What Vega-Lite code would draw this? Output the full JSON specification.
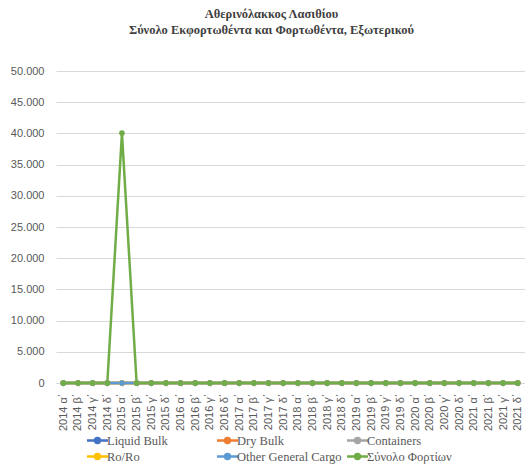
{
  "$schema": "https://vega.github.io/schema/vega-lite/v6.json",
  "width": 469,
  "height": 312,
  "autosize": {"type": "none"},
  "padding": {"left": 56, "top": 71, "right": 0, "bottom": 89},
  "background": "white",
  "config": {
    "locale": {"number": {"decimal": ",", "thousands": ".", "grouping": [3], "currency": ["", " €"]}},
    "view": {"stroke": null},
    "font": "Liberation Serif"
  },
  "title": {
    "text": ["Αθερινόλακκος Λασιθίου", "Σύνολο Εκφορτωθέντα και Φορτωθέντα, Εξωτερικού"],
    "font": "Liberation Serif",
    "fontSize": 12.5,
    "fontWeight": "bold",
    "color": "#404040",
    "anchor": "middle",
    "dx": -19,
    "offset": 29,
    "lineHeight": 16
  },
  "data": {
    "values": [
      {"q": "2014 α΄", "Liquid Bulk": 0, "Dry Bulk": 0, "Containers": 0, "Ro/Ro": 0, "Other General Cargo": 0, "Σύνολο Φορτίων": 0},
      {"q": "2014 β΄", "Liquid Bulk": 0, "Dry Bulk": 0, "Containers": 0, "Ro/Ro": 0, "Other General Cargo": 0, "Σύνολο Φορτίων": 0},
      {"q": "2014 γ΄", "Liquid Bulk": 0, "Dry Bulk": 0, "Containers": 0, "Ro/Ro": 0, "Other General Cargo": 0, "Σύνολο Φορτίων": 0},
      {"q": "2014 δ΄", "Liquid Bulk": 0, "Dry Bulk": 0, "Containers": 0, "Ro/Ro": 0, "Other General Cargo": 0, "Σύνολο Φορτίων": 0},
      {"q": "2015 α΄", "Liquid Bulk": 0, "Dry Bulk": 0, "Containers": 0, "Ro/Ro": 0, "Other General Cargo": 0, "Σύνολο Φορτίων": 40050},
      {"q": "2015 β΄", "Liquid Bulk": 0, "Dry Bulk": 0, "Containers": 0, "Ro/Ro": 0, "Other General Cargo": 0, "Σύνολο Φορτίων": 0},
      {"q": "2015 γ΄", "Liquid Bulk": 0, "Dry Bulk": 0, "Containers": 0, "Ro/Ro": 0, "Other General Cargo": 0, "Σύνολο Φορτίων": 0},
      {"q": "2015 δ΄", "Liquid Bulk": 0, "Dry Bulk": 0, "Containers": 0, "Ro/Ro": 0, "Other General Cargo": 0, "Σύνολο Φορτίων": 0},
      {"q": "2016 α΄", "Liquid Bulk": 0, "Dry Bulk": 0, "Containers": 0, "Ro/Ro": 0, "Other General Cargo": 0, "Σύνολο Φορτίων": 0},
      {"q": "2016 β΄", "Liquid Bulk": 0, "Dry Bulk": 0, "Containers": 0, "Ro/Ro": 0, "Other General Cargo": 0, "Σύνολο Φορτίων": 0},
      {"q": "2016 γ΄", "Liquid Bulk": 0, "Dry Bulk": 0, "Containers": 0, "Ro/Ro": 0, "Other General Cargo": 0, "Σύνολο Φορτίων": 0},
      {"q": "2016 δ΄", "Liquid Bulk": 0, "Dry Bulk": 0, "Containers": 0, "Ro/Ro": 0, "Other General Cargo": 0, "Σύνολο Φορτίων": 0},
      {"q": "2017 α΄", "Liquid Bulk": 0, "Dry Bulk": 0, "Containers": 0, "Ro/Ro": 0, "Other General Cargo": 0, "Σύνολο Φορτίων": 0},
      {"q": "2017 β΄", "Liquid Bulk": 0, "Dry Bulk": 0, "Containers": 0, "Ro/Ro": 0, "Other General Cargo": 0, "Σύνολο Φορτίων": 0},
      {"q": "2017 γ΄", "Liquid Bulk": 0, "Dry Bulk": 0, "Containers": 0, "Ro/Ro": 0, "Other General Cargo": 0, "Σύνολο Φορτίων": 0},
      {"q": "2017 δ΄", "Liquid Bulk": 0, "Dry Bulk": 0, "Containers": 0, "Ro/Ro": 0, "Other General Cargo": 0, "Σύνολο Φορτίων": 0},
      {"q": "2018 α΄", "Liquid Bulk": 0, "Dry Bulk": 0, "Containers": 0, "Ro/Ro": 0, "Other General Cargo": 0, "Σύνολο Φορτίων": 0},
      {"q": "2018 β΄", "Liquid Bulk": 0, "Dry Bulk": 0, "Containers": 0, "Ro/Ro": 0, "Other General Cargo": 0, "Σύνολο Φορτίων": 0},
      {"q": "2018 γ΄", "Liquid Bulk": 0, "Dry Bulk": 0, "Containers": 0, "Ro/Ro": 0, "Other General Cargo": 0, "Σύνολο Φορτίων": 0},
      {"q": "2018 δ΄", "Liquid Bulk": 0, "Dry Bulk": 0, "Containers": 0, "Ro/Ro": 0, "Other General Cargo": 0, "Σύνολο Φορτίων": 0},
      {"q": "2019 α΄", "Liquid Bulk": 0, "Dry Bulk": 0, "Containers": 0, "Ro/Ro": 0, "Other General Cargo": 0, "Σύνολο Φορτίων": 0},
      {"q": "2019 β΄", "Liquid Bulk": 0, "Dry Bulk": 0, "Containers": 0, "Ro/Ro": 0, "Other General Cargo": 0, "Σύνολο Φορτίων": 0},
      {"q": "2019 γ΄", "Liquid Bulk": 0, "Dry Bulk": 0, "Containers": 0, "Ro/Ro": 0, "Other General Cargo": 0, "Σύνολο Φορτίων": 0},
      {"q": "2019 δ΄", "Liquid Bulk": 0, "Dry Bulk": 0, "Containers": 0, "Ro/Ro": 0, "Other General Cargo": 0, "Σύνολο Φορτίων": 0},
      {"q": "2020 α΄", "Liquid Bulk": 0, "Dry Bulk": 0, "Containers": 0, "Ro/Ro": 0, "Other General Cargo": 0, "Σύνολο Φορτίων": 0},
      {"q": "2020 β΄", "Liquid Bulk": 0, "Dry Bulk": 0, "Containers": 0, "Ro/Ro": 0, "Other General Cargo": 0, "Σύνολο Φορτίων": 0},
      {"q": "2020 γ΄", "Liquid Bulk": 0, "Dry Bulk": 0, "Containers": 0, "Ro/Ro": 0, "Other General Cargo": 0, "Σύνολο Φορτίων": 0},
      {"q": "2020 δ΄", "Liquid Bulk": 0, "Dry Bulk": 0, "Containers": 0, "Ro/Ro": 0, "Other General Cargo": 0, "Σύνολο Φορτίων": 0},
      {"q": "2021 α΄", "Liquid Bulk": 0, "Dry Bulk": 0, "Containers": 0, "Ro/Ro": 0, "Other General Cargo": 0, "Σύνολο Φορτίων": 0},
      {"q": "2021 β΄", "Liquid Bulk": 0, "Dry Bulk": 0, "Containers": 0, "Ro/Ro": 0, "Other General Cargo": 0, "Σύνολο Φορτίων": 0},
      {"q": "2021 γ΄", "Liquid Bulk": 0, "Dry Bulk": 0, "Containers": 0, "Ro/Ro": 0, "Other General Cargo": 0, "Σύνολο Φορτίων": 0},
      {"q": "2021 δ΄", "Liquid Bulk": 0, "Dry Bulk": 0, "Containers": 0, "Ro/Ro": 0, "Other General Cargo": 0, "Σύνολο Φορτίων": 0}
    ]
  },
  "transform": [
    {"fold": ["Liquid Bulk", "Dry Bulk", "Containers", "Ro/Ro", "Other General Cargo", "Σύνολο Φορτίων"], "as": ["series", "value"]}
  ],
  "encoding": {
    "x": {
      "field": "q", "type": "ordinal", "sort": null,
      "scale": {"type": "point", "padding": 0.5},
      "axis": {
        "title": null, "labelAngle": -90, "labelFont": "Liberation Sans", "labelFontSize": 11,
        "labelColor": "#595959", "labelPadding": 6, "domainColor": "#D9D9D9", "tickColor": "#D9D9D9",
        "tickSize": 4, "grid": false
      }
    },
    "y": {
      "field": "value", "type": "quantitative",
      "scale": {"domain": [0, 50000], "nice": false},
      "axis": {
        "title": null, "values": [0, 5000, 10000, 15000, 20000, 25000, 30000, 35000, 40000, 45000, 50000],
        "format": ",d", "labelFont": "Liberation Sans", "labelFontSize": 11, "labelColor": "#595959",
        "ticks": false, "domain": false, "labelPadding": 12, "gridColor": "#D9D9D9", "gridWidth": 1
      }
    },
    "color": {
      "field": "series", "type": "nominal",
      "scale": {
        "domain": ["Liquid Bulk", "Dry Bulk", "Containers", "Ro/Ro", "Other General Cargo", "Σύνολο Φορτίων"],
        "range": ["#4472C4", "#ED7D31", "#A5A5A5", "#FFC000", "#5B9BD5", "#70AD47"]
      },
      "legend": {
        "title": null, "orient": "none", "legendX": 33, "legendY": 361, "direction": "horizontal", "columns": 3,
        "labelFont": "Liberation Serif", "labelFontSize": 12.5, "labelColor": "#595959",
        "symbolType": "M-1.5,0L1.5,0M-0.35,0A0.35,0.35 0 1,1 0.35,0A0.35,0.35 0 1,1 -0.35,0Z",
        "symbolSize": 196, "symbolStrokeWidth": 2.5, "labelOffset": 1,
        "gridAlign": "all", "columnPadding": 0, "rowPadding": -1,
        "encode": {"symbols": {"update": {"fill": {"scale": "color", "field": "value"}, "stroke": {"scale": "color", "field": "value"}}}}
      }
    }
  },
  "layer": [
    {"mark": {"type": "line", "strokeWidth": 2.5}},
    {"mark": {"type": "point", "filled": true, "size": 32, "opacity": 1}}
  ]
}
